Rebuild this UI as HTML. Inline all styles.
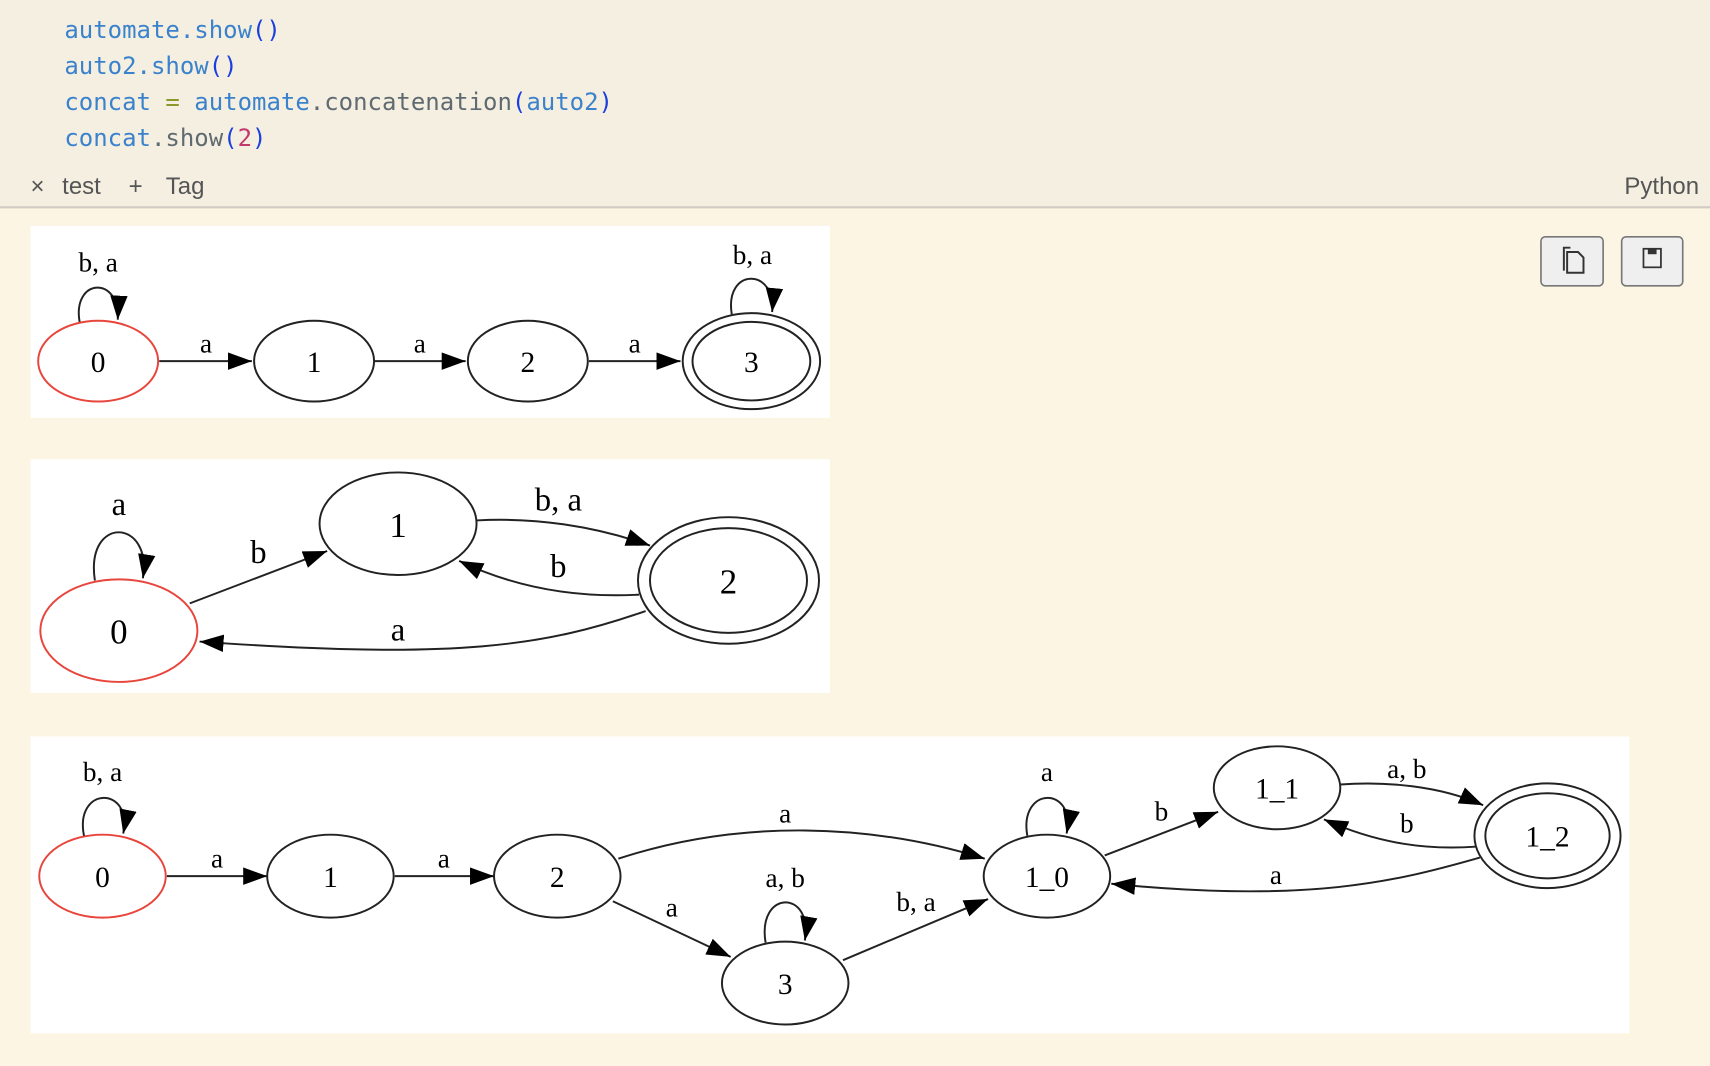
<!DOCTYPE html>
<html><head><meta charset="utf-8"><style>
html,body{margin:0;padding:0;width:1710px;height:1066px;overflow:hidden;background:#fcf5e4}
svg{display:block}
.m{font-family:"DejaVu Sans Mono","Liberation Mono",monospace;font-size:22px}
.s{font-family:"Liberation Sans",sans-serif;font-size:22px;fill:#555}
.g{font-family:"Liberation Serif",serif;font-size:25px;fill:#000;text-anchor:middle}
.g2{font-family:"Liberation Serif",serif;font-size:30px;fill:#000;text-anchor:middle}
.n{font-family:"Liberation Serif",serif;font-size:27px;fill:#000;text-anchor:middle}
.n2{font-family:"Liberation Serif",serif;font-size:32px;fill:#000;text-anchor:middle}
ellipse{fill:none;stroke:#222;stroke-width:1.8}
.r{stroke:#e8453c}
path.e{fill:none;stroke:#222;stroke-width:1.8}
</style></head><body>
<svg width="1710" height="1066" viewBox="0 0 1568 977" preserveAspectRatio="none" xmlns="http://www.w3.org/2000/svg">
<defs>
<marker id="a" markerUnits="userSpaceOnUse" markerWidth="24" markerHeight="18" refX="22" refY="8" orient="auto">
<path d="M0,0 L22,8 L0,16 Z" fill="#000"/></marker>
</defs>
<rect x="0" y="0" width="1568" height="190" fill="#f5efe2"/>
<rect x="0" y="189" width="1568" height="2" fill="#d0ccc3"/>
<text class="m" x="59" y="35"><tspan fill="#3b82cc">automate.show</tspan><tspan fill="#1a3fe0">()</tspan></text>
<text class="m" x="59" y="68"><tspan fill="#3b82cc">auto2.show</tspan><tspan fill="#1a3fe0">()</tspan></text>
<text class="m" x="59" y="101"><tspan fill="#3b82cc">concat </tspan><tspan fill="#8a9a2a">=</tspan><tspan fill="#3b82cc"> automate</tspan><tspan fill="#5f6b70">.concatenation</tspan><tspan fill="#1a3fe0">(</tspan><tspan fill="#3b82cc">auto2</tspan><tspan fill="#1a3fe0">)</tspan></text>
<text class="m" x="59" y="134"><tspan fill="#3b82cc">concat</tspan><tspan fill="#5f6b70">.show</tspan><tspan fill="#1a3fe0">(</tspan><tspan fill="#c23a6b">2</tspan><tspan fill="#1a3fe0">)</tspan></text>
<text class="s" x="28" y="178" font-size="24">×</text><text class="s" x="57" y="178">test</text>
<text class="s" x="118" y="178" font-size="26">+</text><text class="s" x="152" y="178">Tag</text>
<text class="s" x="1558" y="178" text-anchor="end">Python</text>
<rect x="1413" y="217" width="57" height="45" rx="4" fill="#efefef" stroke="#777" stroke-width="1.5"/>
<rect x="1487" y="217" width="56" height="45" rx="4" fill="#efefef" stroke="#777" stroke-width="1.5"/>
<path d="M1434,248 V227 H1440 M1437,231 H1447 L1452,236 V250 H1437 Z" fill="none" stroke="#333" stroke-width="1.8"/>
<rect x="1507" y="228" width="16" height="17" fill="none" stroke="#333" stroke-width="1.6"/><rect x="1511" y="228" width="8" height="5" fill="#333"/>
<rect x="28" y="207" width="733" height="176" fill="#fff"/>
<rect x="28" y="421" width="733" height="214" fill="#fff"/>
<rect x="28" y="675" width="1466" height="272" fill="#fff"/>
<!-- graph 1 -->
<ellipse class="r" cx="90" cy="331" rx="55" ry="37"/><text class="n" x="90" y="341">0</text>
<ellipse cx="288" cy="331" rx="55" ry="37"/><text class="n" x="288" y="341">1</text>
<ellipse cx="484" cy="331" rx="55" ry="37"/><text class="n" x="484" y="341">2</text>
<ellipse cx="689" cy="331" rx="63" ry="44"/><ellipse cx="689" cy="331" rx="54" ry="36"/><text class="n" x="689" y="341">3</text>
<path class="e" d="M73,295 C66,255 110,252 108,293" marker-end="url(#a)"/><text class="g" x="90" y="249">b, a</text>
<path class="e" d="M671,288 C664,245 712,245 708,286" marker-end="url(#a)"/><text class="g" x="690" y="242">b, a</text>
<path class="e" d="M146,331 H231" marker-end="url(#a)"/><text class="g" x="189" y="323">a</text>
<path class="e" d="M343,331 H427" marker-end="url(#a)"/><text class="g" x="385" y="323">a</text>
<path class="e" d="M540,331 H624" marker-end="url(#a)"/><text class="g" x="582" y="323">a</text>
<!-- graph 2 -->
<ellipse class="r" cx="109" cy="578" rx="72" ry="47"/><text class="n2" x="109" y="590">0</text>
<ellipse cx="365" cy="480" rx="72" ry="47"/><text class="n2" x="365" y="492">1</text>
<ellipse cx="668" cy="532" rx="83" ry="58"/><ellipse cx="668" cy="532" rx="72" ry="48"/><text class="n2" x="668" y="544">2</text>
<path class="e" d="M87,532 C78,472 140,475 131,530" marker-end="url(#a)"/><text class="g2" x="109" y="472">a</text>
<path class="e" d="M174,553 L300,505" marker-end="url(#a)"/><text class="g2" x="237" y="516">b</text>
<path class="e" d="M437,477 C490,474 545,482 596,500" marker-end="url(#a)"/><text class="g2" x="512" y="468">b, a</text>
<path class="e" d="M586,545 C530,548 475,540 421,514" marker-end="url(#a)"/><text class="g2" x="512" y="529">b</text>
<path class="e" d="M592,560 C500,592 420,605 183,588" marker-end="url(#a)"/><text class="g2" x="365" y="587">a</text>
<!-- graph 3 -->
<ellipse class="r" cx="94" cy="803" rx="58" ry="38"/><text class="n" x="94" y="813">0</text>
<ellipse cx="303" cy="803" rx="58" ry="38"/><text class="n" x="303" y="813">1</text>
<ellipse cx="511" cy="803" rx="58" ry="38"/><text class="n" x="511" y="813">2</text>
<ellipse cx="720" cy="901" rx="58" ry="38"/><text class="n" x="720" y="911">3</text>
<ellipse cx="960" cy="803" rx="58" ry="38"/><text class="n" x="960" y="813">1_0</text>
<ellipse cx="1171" cy="722" rx="58" ry="38"/><text class="n" x="1171" y="732">1_1</text>
<ellipse cx="1419" cy="766" rx="67" ry="48"/><ellipse cx="1419" cy="766" rx="57" ry="39"/><text class="n" x="1419" y="776">1_2</text>
<path class="e" d="M77,766 C68,720 122,720 113,764" marker-end="url(#a)"/><text class="g" x="94" y="716">b, a</text>
<path class="e" d="M702,864 C694,815 746,815 738,862" marker-end="url(#a)"/><text class="g" x="720" y="813">a, b</text>
<path class="e" d="M942,766 C934,720 987,720 978,764" marker-end="url(#a)"/><text class="g" x="960" y="716">a</text>
<path class="e" d="M153,803 H245" marker-end="url(#a)"/><text class="g" x="199" y="795">a</text>
<path class="e" d="M362,803 H453" marker-end="url(#a)"/><text class="g" x="407" y="795">a</text>
<path class="e" d="M567,787 C680,750 800,755 903,787" marker-end="url(#a)"/><text class="g" x="720" y="754">a</text>
<path class="e" d="M562,826 L670,877" marker-end="url(#a)"/><text class="g" x="616" y="840">a</text>
<path class="e" d="M773,880 L906,824" marker-end="url(#a)"/><text class="g" x="840" y="835">b, a</text>
<path class="e" d="M1013,784 L1117,744" marker-end="url(#a)"/><text class="g" x="1065" y="752">b</text>
<path class="e" d="M1229,719 C1270,716 1320,720 1360,738" marker-end="url(#a)"/><text class="g" x="1290" y="713">a, b</text>
<path class="e" d="M1353,776 C1310,779 1265,774 1214,751" marker-end="url(#a)"/><text class="g" x="1290" y="763">b</text>
<path class="e" d="M1357,786 C1280,808 1200,828 1019,810" marker-end="url(#a)"/><text class="g" x="1170" y="810">a</text>
</svg>
</body></html>
